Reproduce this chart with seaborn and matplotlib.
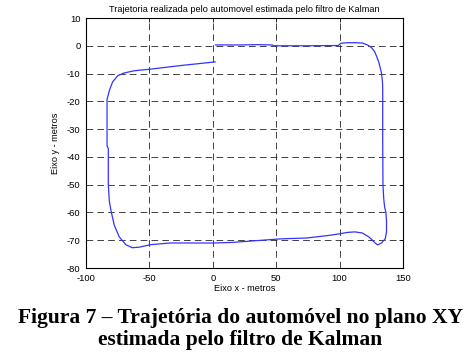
import matplotlib
matplotlib.use("Agg")
import matplotlib.pyplot as plt
import seaborn as sns
import pandas as pd

title = "Trajetoria realizada pelo automovel estimada pelo filtro de Kalman"
xlabel = "Eixo x - metros"
ylabel = "Eixo y - metros"
caption = "Figura 7 – Trajetória do automóvel no plano XY\nestimada pelo filtro de Kalman"

x_ticks = [-100, -50, 0, 50, 100, 150]
y_ticks = [10, 0, -10, -20, -30, -40, -50, -60, -70, -80]

x_pos = [2, 20, 35, 47, 48, 75, 99, 101, 106, 112, 118, 122, 125, 127.5, 129, 131,
         132, 133, 133.8, 134, 134, 134, 134.2, 134.8, 135.5, 136.5, 137, 137, 136,
         133, 130, 128, 125.5, 123, 118, 112, 106, 100, 91, 74, 54, 30, 15, 0, -20,
         -33.6, -49, -58, -63.5, -68.6, -73.8, -77.7, -80, -81.6, -82.4, -82.4, -83.4,
         -83.4, -81.5, -79, -75, -70, -62, -49, -23, 2]
y_pos = [0.3, 0.3, 0.4, 0.3, 0.0, 0.0, 0.1, 0.9, 1.1, 1.1, 1.0, 0.3, -0.6, -2, -3.6, -6,
         -7.9, -9.7, -13, -15, -25, -36, -50, -55, -58, -60, -63, -67, -69.5,
         -71, -71.7, -71, -69.8, -68.8, -67.4, -67.0, -67.2, -67.7, -68.3, -69.2, -69.5,
         -70.3, -70.8, -71, -71, -71, -71.6, -72.5, -72.7, -71.6, -68.8, -64.6, -60, -56,
         -50, -37, -36, -19.3, -16, -13, -10.8, -9.8, -9, -8.4, -7, -5.8]

df = pd.DataFrame({"x": x_pos, "y": y_pos, "order": range(len(x_pos))})

sns.set_theme(style="white")
plt.rcParams["font.family"] = ["Liberation Sans", "DejaVu Sans"]
plt.rcParams["axes.unicode_minus"] = False

fig = plt.figure(figsize=(4.73, 3.6), dpi=100)
ax = fig.add_axes([86 / 473, 1 - 268 / 360, (403 - 86) / 473, (268 - 18) / 360])

sns.lineplot(data=df, x="x", y="y", sort=False, estimator=None, color="#3333ff",
             linewidth=0.9, ax=ax)

ax.set_xlim(-100, 150)
ax.set_ylim(-80, 10)
ax.set_xticks(x_ticks)
ax.set_yticks(y_ticks)
ax.tick_params(direction="in", length=3, width=0.6, labelsize=6.8, colors="black",
               top=True, right=True, pad=4)
for sp in ax.spines.values():
    sp.set_color("black")
    sp.set_linewidth(0.8)
ax.grid(True, color="#222222", linestyle=(0, (8, 5)), linewidth=0.6)
ax.set_axisbelow(True)

ax.set_title(title, fontsize=6.6, pad=4, color="black")
ax.set_xlabel(xlabel, fontsize=6.6, labelpad=1, color="black")
ax.set_ylabel(ylabel, fontsize=6.6, labelpad=5, color="black")

fig.text(0.5 + 4 / 473, 1 - 329 / 360, caption, ha="center", va="center", fontsize=15.5,
         fontweight="bold", family=["Liberation Serif", "DejaVu Serif"],
         linespacing=1.2, color="black")

fig.savefig("out.png", dpi=100, facecolor="white")
